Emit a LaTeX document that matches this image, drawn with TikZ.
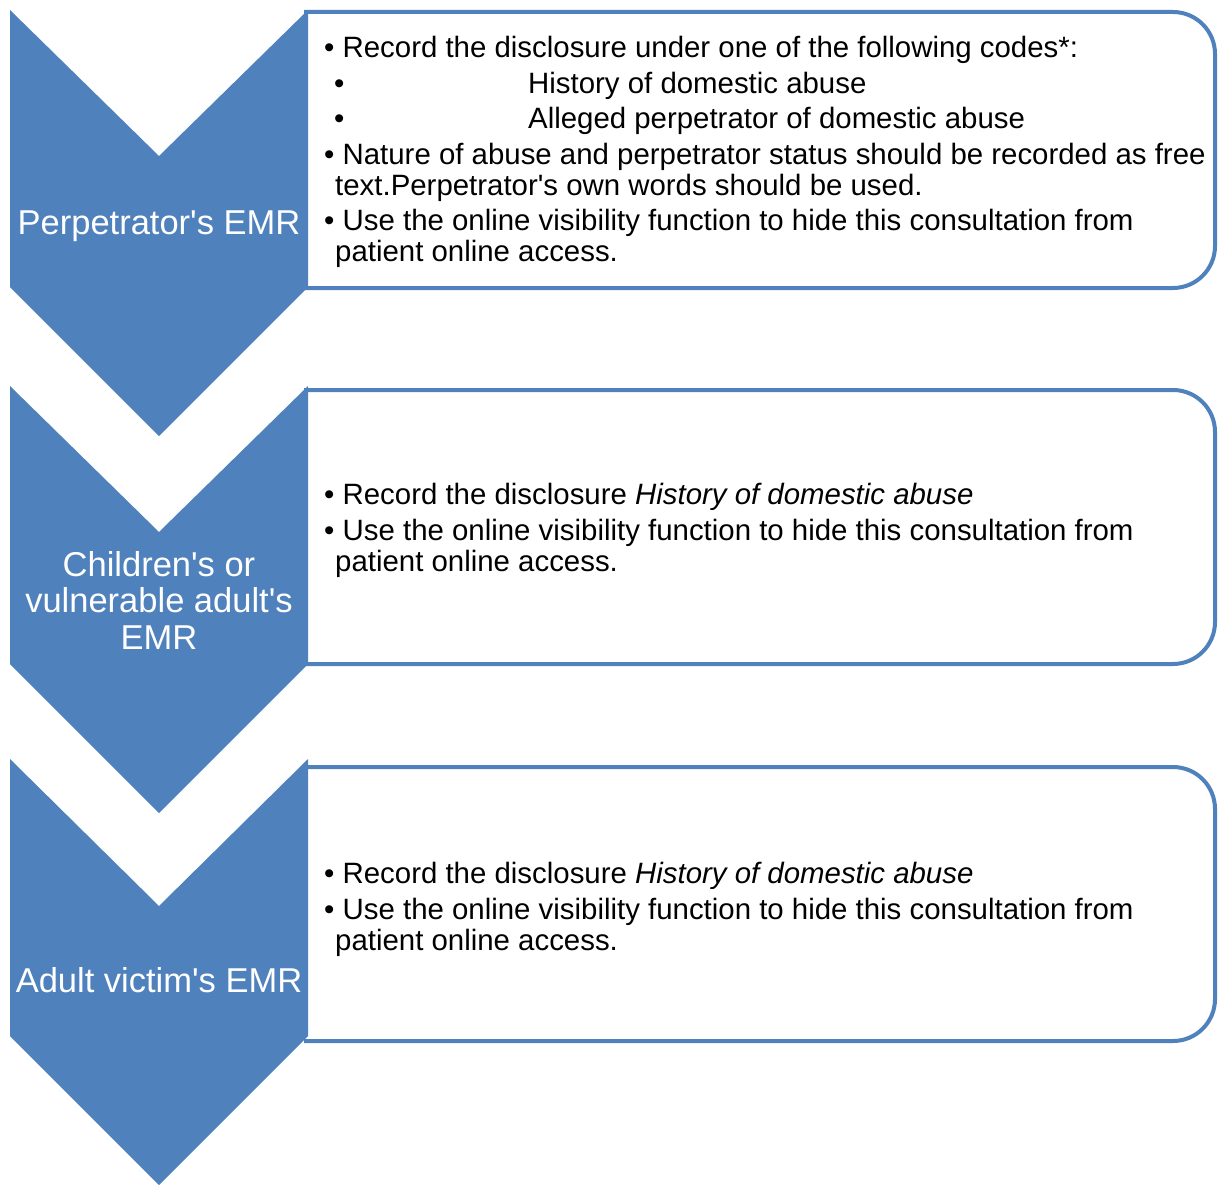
\documentclass[tikz,border=0pt]{standalone}
\usepackage{fontspec}
\setmainfont{Liberation Sans}
\usetikzlibrary{positioning}
\definecolor{emrblue}{HTML}{4F81BD}

\begin{document}
\begin{tikzpicture}[x=1pt,y=-1pt,
  chev/.style={fill=emrblue},
  chevlabel/.style={text=white,align=center,inner sep=0pt,font=\fontsize{34.5}{36.5}\selectfont},
  infobox/.style={draw=emrblue,line width=4pt,fill=white,rounded corners=42pt},
  infotext/.style={anchor=north west,align=left,inner sep=0pt,font=\fontsize{29.4}{31}\selectfont}]
\useasboundingbox (0,0) rectangle (1218,1185);

% boxes
\path[infobox] (304,12) -- (1215,12) -- (1215,288) -- (304,288);
\path[infobox] (304,390) -- (1215,390) -- (1215,664) -- (304,664);
\path[infobox] (304,767) -- (1215,767) -- (1215,1041) -- (304,1041);

% chevrons
\path[chev] (10,10) -- (159,156) -- (308,10) -- (308,287) -- (159,436) -- (10,287) -- cycle;
\path[chev] (10,386) -- (159,532) -- (308,386) -- (308,664) -- (159,813) -- (10,664) -- cycle;
\path[chev] (10,759) -- (159,906) -- (308,759) -- (308,1036) -- (159,1185) -- (10,1036) -- cycle;

\node[chevlabel] (perp) at (159,226) {Perpetrator\textquotesingle s EMR};
\node[chevlabel] (child) at (159,600) {Children\textquotesingle s or\\vulnerable adult\textquotesingle s\\EMR};
\node[chevlabel] (victim) at (159,980) {Adult victim\textquotesingle s EMR};

\node[infotext] (perpnote) at (324,36) {%
\textbullet\ Record the disclosure under one of the following codes*:\\[4.5pt]
\hspace*{10pt}\makebox[194pt][l]{\textbullet}History of domestic abuse\\[4.5pt]
\hspace*{10pt}\makebox[194pt][l]{\textbullet}Alleged perpetrator of domestic abuse\\[4.5pt]
\textbullet\ Nature of abuse and perpetrator status should be recorded as free\\
\hspace*{11pt}text.Perpetrator\textquotesingle s own words should be used.\\[4.5pt]
\textbullet\ Use the online visibility function to hide this consultation from\\
\hspace*{11pt}patient online access.};

\node[infotext] (childnote) at (324,483) {%
\textbullet\ Record the disclosure \textit{History of domestic abuse}\\[4.5pt]
\textbullet\ Use the online visibility function to hide this consultation from\\
\hspace*{11pt}patient online access.};

\node[infotext] (victimnote) at (324,862) {%
\textbullet\ Record the disclosure \textit{History of domestic abuse}\\[4.5pt]
\textbullet\ Use the online visibility function to hide this consultation from\\
\hspace*{11pt}patient online access.};
\end{tikzpicture}
\end{document}
